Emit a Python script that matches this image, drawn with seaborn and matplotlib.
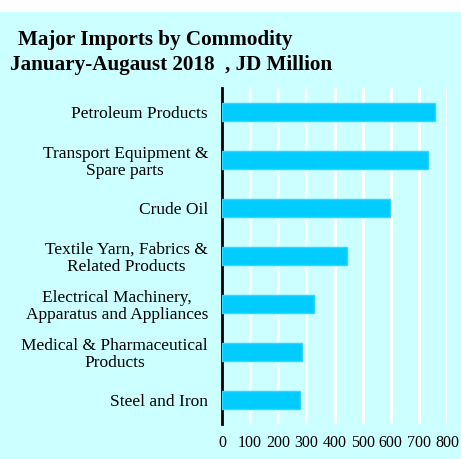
import matplotlib
matplotlib.use("Agg")
import matplotlib.pyplot as plt
import seaborn as sns
import pandas as pd
from matplotlib.patches import Rectangle

# data (JD Million)
commodities = [
    "Petroleum Products",
    "Transport Equipment &\nSpare parts",
    "Crude Oil",
    "Textile Yarn, Fabrics &\nRelated Products",
    "Electrical Machinery,\nApparatus and Appliances",
    "Medical & Pharmaceutical\nProducts",
    "Steel and Iron",
]
values = [757, 731, 598, 444, 327, 284, 278]
x_ticks = [0, 100, 200, 300, 400, 500, 600, 700, 800]

BG = "#CCFFFF"
BAR = "#00CCFF"

sns.set_style("white")
plt.rcParams["font.family"] = ["Liberation Serif", "DejaVu Serif"]
plt.rcParams["text.color"] = "black"
plt.rcParams["xtick.color"] = "black"
plt.rcParams["ytick.color"] = "black"

df = pd.DataFrame({"commodity": commodities, "value": values})

fig = plt.figure(figsize=(4.61, 4.59), dpi=100)
fig.patch.set_facecolor("white")
# cyan panel, leaving a thin white strip on top
fig.patches.append(Rectangle((0, 0), 1, 447 / 459, transform=fig.transFigure,
                             facecolor=BG, edgecolor="none", zorder=-10))

ax = fig.add_axes([222 / 461, 35 / 459, 225 / 461, 336 / 459])
ax.set_facecolor(BG)

sns.barplot(data=df, y="commodity", x="value", orient="h", color=BAR,
            width=0.375, saturation=1, edgecolor="#33D6FF", linewidth=1,
            ax=ax, zorder=3)

ax.set_xlim(0, 800)
ax.set_ylim(len(commodities) - 0.5, -0.5)
ax.set_xticks(x_ticks)
ax.set_xticklabels([str(t) for t in x_ticks], fontsize=11.5)
ax.tick_params(axis="x", length=0, pad=8)
ax.tick_params(axis="y", length=3, width=1.5, direction="out", labelsize=12.5, pad=7)
ax.grid(axis="x", color="white", linewidth=2, zorder=0)
ax.set_axisbelow(True)
for s in ["top", "right", "bottom"]:
    ax.spines[s].set_visible(False)
ax.spines["left"].set_linewidth(2)
ax.spines["left"].set_color("black")
ax.set_xlabel("")
ax.set_ylabel("")
for lbl in ax.get_yticklabels():
    lbl.set_horizontalalignment("right")
    lbl.set_multialignment("center")
    lbl.set_linespacing(1.1)

fig.text(18 / 461, 1 - 45 / 459, "Major Imports by Commodity", fontsize=15.2,
         fontweight="bold", ha="left", va="baseline")
fig.text(10 / 461, 1 - 70 / 459, "January-Augaust 2018  , JD Million", fontsize=15.2,
         fontweight="bold", ha="left", va="baseline")

fig.savefig("out.png", dpi=100, facecolor=fig.get_facecolor())
